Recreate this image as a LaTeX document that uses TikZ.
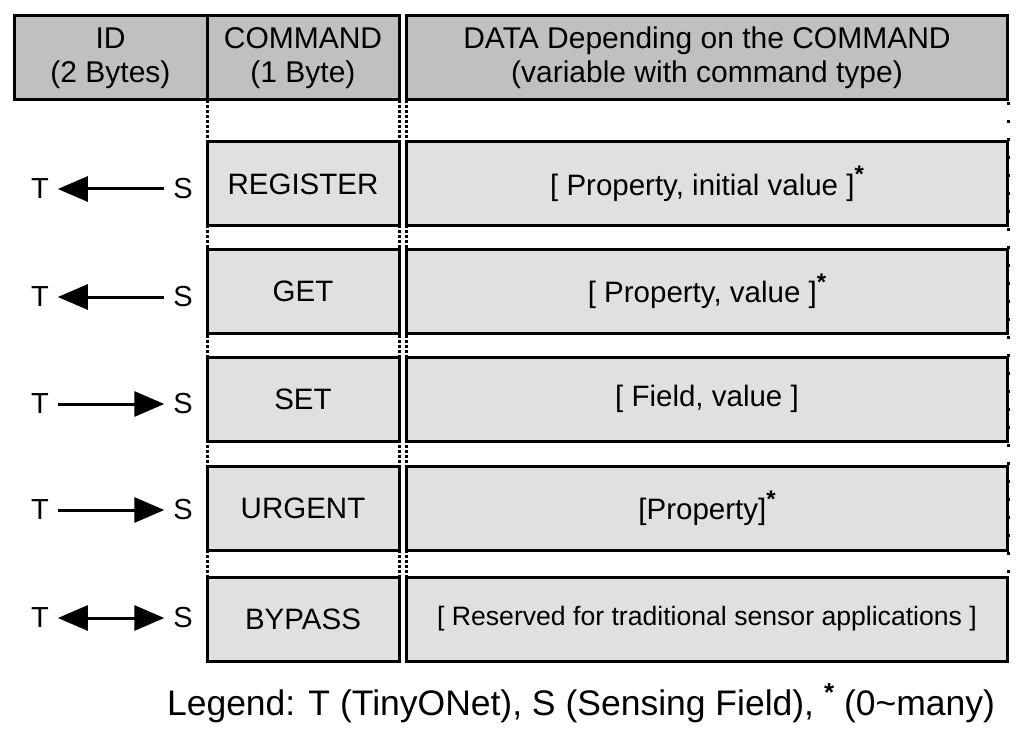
\documentclass[tikz,border=0pt]{standalone}
\usepackage{fontspec}
\setmainfont{Liberation Sans}
\usetikzlibrary{arrows.meta,positioning}
\definecolor{headgray}{HTML}{C0C0C0}
\definecolor{rowgray}{HTML}{E0E0E0}
\newcommand{\manystar}{\raisebox{0.42em}{\fontsize{24}{24}\selectfont\bfseries *}}

\tikzset{
  hdrcell/.style={draw,line width=3pt,fill=headgray,minimum height=84pt,align=center,inner sep=0pt,
    font=\fontsize{30}{34}\selectfont},
  cmdcell/.style={draw,line width=3pt,fill=rowgray,minimum width=192pt,minimum height=84pt,inner sep=0pt,
    font=\fontsize{29.5}{34}\selectfont},
  datacell/.style={cmdcell,minimum width=601pt},
  endlabel/.style={inner sep=2pt,outer sep=7pt,font=\fontsize{29}{34}\selectfont},
  flowarrow/.style={line width=3pt,{Triangle[length=30pt,width=25pt]}-},
  colsep/.style={line width=3pt,dotted}
}

\begin{document}
\begin{tikzpicture}[x=1pt,y=-1pt]
  \useasboundingbox (0,0) rectangle (1024,735);

  % column separators
  \draw[colsep] (207,100) -- (207,662);
  \draw[colsep] (399,100) -- (399,662);
  \draw[colsep] (406,100) -- (406,662);
  \draw[line width=3pt,dash pattern=on 3pt off 15pt] (1008,102) -- (1008,580);

  % Header
  \node[hdrcell,minimum width=193pt] (idhead) at (110.5,58) {ID\\(2 Bytes)};
  \node[hdrcell,minimum width=192pt] (cmdhead) at (303,58) {COMMAND\\(1 Byte)};
  \node[hdrcell,minimum width=601pt] (datahead) at (707,58) {DATA Depending on the COMMAND\\(variable with command type)};

  % Command rows
  \node[cmdcell] (regcmd) at (303,184) {REGISTER};
  \node[datacell] (regdata) at (707,184) {[ Property, initial value ]\manystar};
  \node[cmdcell] (getcmd) at (303,291) {GET};
  \node[datacell] (getdata) at (707,291) {[ Property, value ]\manystar};
  \node[cmdcell] (setcmd) at (303,399) {SET};
  \node[datacell] (setdata) at (707,399) {[ Field, value ]};
  \node[cmdcell] (urgcmd) at (303,508) {URGENT};
  \node[datacell] (urgdata) at (707,508) {[Property]\manystar};
  \node[cmdcell] (bypcmd) at (303,619) {BYPASS};
  \node[datacell,font=\fontsize{26.6}{30}\selectfont] (bypdata) at (707,619) {[ Reserved for traditional sensor applications ]};

  % T / S directions
  \node[endlabel] (regt) at (40,189) {T};
  \node[endlabel] (regs) at (183,189) {S};
  \draw[flowarrow] (regt) -- (regs);
  \node[endlabel] (gett) at (40,297) {T};
  \node[endlabel] (gets) at (183,297) {S};
  \draw[flowarrow] (gett) -- (gets);
  \node[endlabel] (sett) at (40,404) {T};
  \node[endlabel] (sets) at (183,404) {S};
  \draw[flowarrow] (sets) -- (sett);
  \node[endlabel] (urgt) at (40,510) {T};
  \node[endlabel] (urgs) at (183,510) {S};
  \draw[flowarrow] (urgs) -- (urgt);
  \node[endlabel] (bypt) at (40,618) {T};
  \node[endlabel] (byps) at (183,618) {S};
  \draw[line width=3pt,{Triangle[length=30pt,width=25pt]}-{Triangle[length=30pt,width=25pt]}] (bypt) -- (byps);

  % Legend
  \node[font=\fontsize{35.5}{40}\selectfont] (legend) at (581,703) {Legend: T (TinyONet), S (Sensing Field), \raisebox{0.4em}{\fontsize{26}{26}\selectfont\bfseries *} (0\textasciitilde many)};
\end{tikzpicture}
\end{document}
